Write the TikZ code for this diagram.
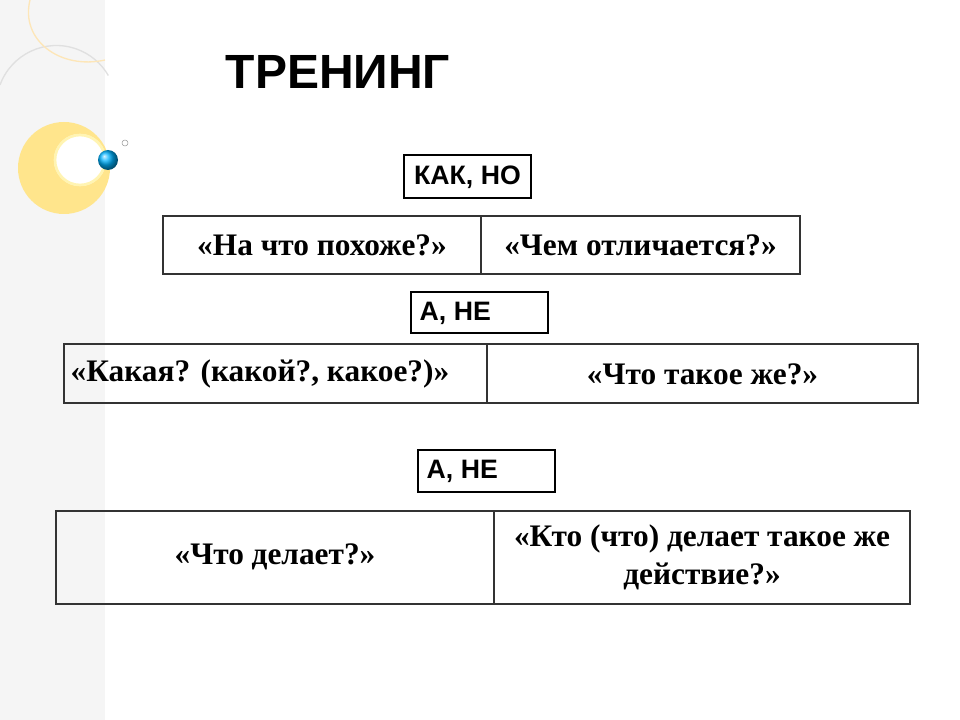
\documentclass[tikz,border=0pt]{standalone}
\usepackage{fontspec}
\setmainfont{Liberation Serif}
\newfontfamily\sansf{Liberation Sans}
\begin{document}
\begin{tikzpicture}[x=0.75pt,y=-0.75pt,
  cell/.style={draw=black!80,line width=0.8pt},
  lab/.style={draw=black,line width=1.6pt},
  celltext/.style={font=\fontsize{23.5}{28.5}\selectfont\bfseries,align=center},
  labtext/.style={font=\sansf\fontsize{20}{24}\selectfont\bfseries}]
\useasboundingbox (0,0) rectangle (960,720);
\fill[black!4] (0,0) rectangle (105,720);
\draw[black!12,line width=1pt] (0,85) arc[start angle=200,end angle=330,radius=60];
\draw[yellow!30!orange!25,line width=1pt] (30,0) .. controls (20,40) and (60,70) .. (105,60);
\fill[orange!45!yellow!45,even odd rule] (64,168) circle[radius=46] (80,160) circle[radius=26];
\fill[white] (80,160) circle[radius=26];
\draw[orange!30!yellow!30,line width=2pt] (80,160) circle[radius=25];
\shade[ball color=cyan!70!blue] (108,160) circle[radius=10];
\draw[black!40] (125,143) circle[radius=3];
\node[font=\sansf\fontsize{36}{40}\selectfont\bfseries] (title) at (338,72) {ТРЕНИНГ};
% label 1
\draw[lab] (404,155) rectangle (531,198);
\node[labtext] (l1) at (467.5,177) {КАК, НО};
% table 1
\draw[cell] (163,216) rectangle (800,274);
\draw[cell] (481,216) -- (481,274);
\node[celltext] (a1) at (322,245) {«На что похоже?»};
\node[celltext] (b1) at (640.5,245) {«Чем отличается?»};
% label 2
\draw[lab] (411,292) rectangle (548,333);
\node[labtext,anchor=west] (l2) at (415,313) {А, НЕ};
% table 2
\draw[cell] (64,344) rectangle (918,403);
\draw[cell] (487,344) -- (487,403);
\node[celltext,anchor=west] (a2) at (66,374) {«Какая? (какой?, какое?)»};
\node[celltext] (b2) at (702.5,374) {«Что такое же?»};
% label 3
\draw[lab] (418,450) rectangle (555,492);
\node[labtext,anchor=west] (l3) at (422,471) {А, НЕ};
% table 3
\draw[cell] (56,511) rectangle (910,604);
\draw[cell] (494,511) -- (494,604);
\node[celltext] (a3) at (275,557) {«Что делает?»};
\node[celltext] (b3) at (702,557) {«Кто (что) делает такое же\\действие?»};
\end{tikzpicture}
\end{document}
